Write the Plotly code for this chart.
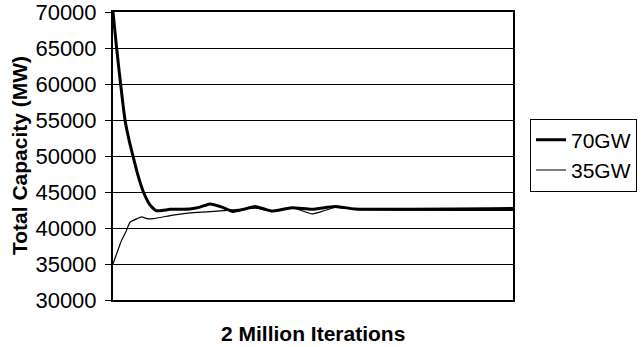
import plotly.graph_objects as go

# Iteration positions (thousands of iterations, 0 .. 2000) and total capacity (MW)
iters_70 = [0, 18, 38, 60, 82, 100, 125, 152, 185, 215, 250, 285, 385, 435, 485,
            545, 600, 660, 710, 760, 795, 895, 995, 1110, 1210, 2000]
cap_70 = [70000, 65000, 60000, 55000, 52000, 50000, 47300, 45000, 43200, 42400,
          42450, 42600, 42650, 42900, 43350, 42900, 42300, 42650, 43000, 42600,
          42350, 42800, 42600, 43000, 42650, 42700]

iters_35 = [0, 43, 65, 85, 120, 143, 170, 200, 300, 385, 470, 570, 660, 710, 795,
            895, 945, 995, 1045, 1110, 1210, 2000]
cap_35 = [35000, 38300, 39500, 40800, 41300, 41550, 41300, 41300, 41800, 42100,
          42250, 42450, 42650, 42750, 42400, 42850, 42400, 41950, 42300, 42850,
          42600, 42450]

y_ticks = [30000, 35000, 40000, 45000, 50000, 55000, 60000, 65000, 70000]
y_tick_labels = [str(v) for v in y_ticks]

FONT = "Liberation Sans, Arial, sans-serif"

fig = go.Figure()
fig.add_trace(go.Scatter(x=iters_70, y=cap_70, name="70GW", mode="lines",
                         line=dict(color="black", width=3, shape="spline", smoothing=0.5)))
fig.add_trace(go.Scatter(x=iters_35, y=cap_35, name="35GW", mode="lines",
                         line=dict(color="black", width=1.2, shape="spline", smoothing=0.5)))

fig.update_layout(
    width=644, height=347,
    margin=dict(l=113, r=131, t=12, b=47, autoexpand=False),
    paper_bgcolor="white", plot_bgcolor="white",
    font=dict(family=FONT, size=20, color="black"),
    showlegend=True,
    legend=dict(x=1.0425, xanchor="left", y=0.63, yanchor="top",
                bordercolor="black", borderwidth=1, bgcolor="white",
                font=dict(family=FONT, size=21, color="black"),
                tracegroupgap=0),
    xaxis=dict(range=[0, 2000], showticklabels=False, ticks="", showgrid=False,
               zeroline=False, showline=True, linecolor="black", linewidth=2,
               mirror=True),
    yaxis=dict(range=[30000, 70000], tickvals=y_ticks, ticktext=y_tick_labels,
               ticks="outside", ticklen=6, tickcolor="black", tickwidth=1,
               ticklabeloverflow="allow", ticklabelstandoff=4,
               showgrid=True, gridcolor="black", gridwidth=1, zeroline=False,
               showline=True, linecolor="black", linewidth=2, mirror=True,
               tickfont=dict(family=FONT, size=22, color="black")),
    annotations=[
        dict(text="<b>2 Million Iterations</b>", xref="paper", yref="paper",
             x=0.5, y=-0.115, xanchor="center", yanchor="middle", showarrow=False,
             font=dict(family=FONT, size=21, color="black")),
        dict(text="<b>Total Capacity (MW)</b>", xref="paper", yref="paper",
             x=-0.235, y=0.5, xanchor="center", yanchor="middle", showarrow=False,
             textangle=-90, font=dict(family=FONT, size=21, color="black")),
    ],
)

fig.write_html("out.html")
